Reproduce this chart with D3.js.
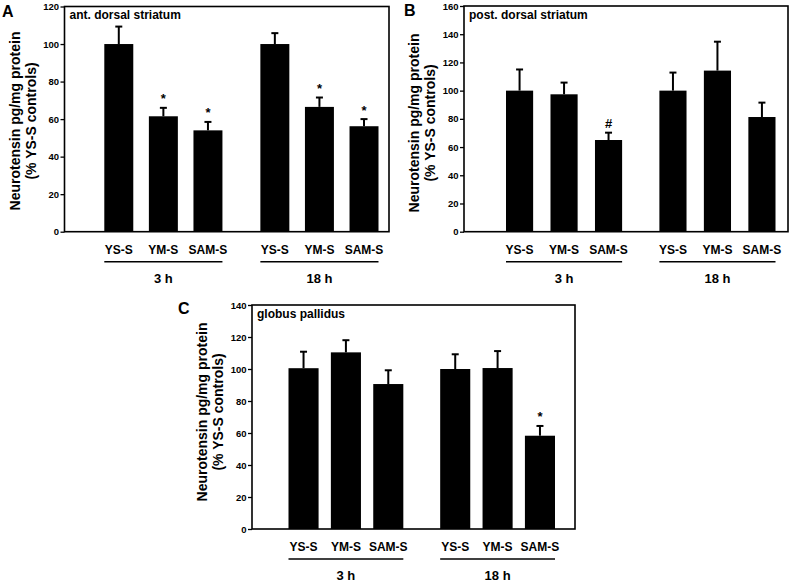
<!DOCTYPE html>
<html>
<head>
<meta charset="utf-8">
<script src="https://cdn.jsdelivr.net/npm/d3@7"></script>
<style>
  html, body { margin: 0; padding: 0; background: #fff; }
  svg { display: block; font-family: "Liberation Sans", Arial, sans-serif; font-weight: bold; }
</style>
</head>
<body>
<svg id="chart" width="791" height="585"></svg>
<script>
// ---------- data ----------
const categories = ["YS-S", "YM-S", "SAM-S"];
const groups = ["3 h", "18 h"];
const yTitle1 = "Neurotensin pg/mg protein";
const yTitle2 = "(% YS-S controls)";

const panelLetters = ["A", "B", "C"];
const regions = ["ant. dorsal striatum", "post. dorsal striatum", "globus pallidus"];

// values in order: 3 h (YS-S, YM-S, SAM-S), 18 h (YS-S, YM-S, SAM-S)
const meanA = [100, 61.5, 54, 100, 66.5, 56.2];
const semA  = [9.3, 4.5, 4.5, 5.8, 5.0, 3.8];
const sigA  = ["", "*", "*", "", "*", "*"];
const ticksA = [0, 20, 40, 60, 80, 100, 120];

const meanB = [100, 97.4, 65, 100, 114.2, 81.3];
const semB  = [15, 8.3, 5.2, 12.8, 20.5, 10.2];
const sigB  = ["", "", "#", "", "", ""];
const ticksB = [0, 20, 40, 60, 80, 100, 120, 140, 160];

const meanC = [100.5, 110.4, 90.6, 100, 100.6, 58.3];
const semC  = [10.3, 7.6, 8.6, 9.2, 10.6, 6.1];
const sigC  = ["", "", "", "", "", "*"];
const ticksC = [0, 20, 40, 60, 80, 100, 120, 140];

// ---------- layout (pixels) ----------
const layouts = [
  { left: 64.5, right: 389, top: 6.5, bottom: 231.7, g0: 104.3, g1: 378.5, inner: 0.35, letterX: 2, letterY: 17, titleY: 121 },
  { left: 464, right: 788, top: 6, bottom: 231.7, g0: 506, g1: 775.5, inner: 0.39, letterX: 404, letterY: 16, titleY: 123 },
  { left: 252, right: 575, top: 305, bottom: 529, g0: 288.5, g1: 555, inner: 0.29, letterX: 178, letterY: 314, titleY: 412 }
];

const panels = [
  { mean: meanA, sem: semA, sig: sigA, ticks: ticksA },
  { mean: meanB, sem: semB, sig: sigB, ticks: ticksB },
  { mean: meanC, sem: semC, sig: sigC, ticks: ticksC }
];

const svg = d3.select("#chart");

panels.forEach((p, pi) => {
  const L = layouts[pi];
  const g = svg.append("g");

  const yMax = d3.max(p.ticks);
  const y = d3.scaleLinear().domain([0, yMax]).range([L.bottom, L.top]);

  const xg = d3.scaleBand().domain(groups).range([L.g0, L.g1]).paddingInner(0.243).paddingOuter(0);
  const xc = d3.scaleBand().domain(categories).range([0, xg.bandwidth()]).paddingInner(L.inner).paddingOuter(0);

  const rows = [];
  groups.forEach((gr, gi) => {
    categories.forEach((c, ci) => {
      const k = gi * categories.length + ci;
      rows.push({ group: gr, cat: c, mean: p.mean[k], sem: p.sem[k], sig: p.sig[k] });
    });
  });
  const bx = d => xg(d.group) + xc(d.cat);
  const bw = xc.bandwidth();

  // bars
  g.selectAll("rect.bar").data(rows).enter().append("rect")
    .attr("class", "bar")
    .attr("x", bx)
    .attr("width", bw)
    .attr("y", d => y(d.mean))
    .attr("height", d => y(0) - y(d.mean))
    .attr("fill", "#000");

  // error bars (upper only)
  g.selectAll("line.err").data(rows).enter().append("line")
    .attr("x1", d => bx(d) + bw / 2).attr("x2", d => bx(d) + bw / 2)
    .attr("y1", d => y(d.mean)).attr("y2", d => y(d.mean + d.sem))
    .attr("stroke", "#000").attr("stroke-width", 2);
  g.selectAll("line.cap").data(rows).enter().append("line")
    .attr("x1", d => bx(d) + bw / 2 - 3.5).attr("x2", d => bx(d) + bw / 2 + 3.5)
    .attr("y1", d => y(d.mean + d.sem)).attr("y2", d => y(d.mean + d.sem))
    .attr("stroke", "#000").attr("stroke-width", 2);

  // significance markers
  g.selectAll("text.sig").data(rows.filter(d => d.sig)).enter().append("text")
    .attr("x", d => bx(d) + bw / 2)
    .attr("y", d => y(d.mean + d.sem) - 4.5)
    .attr("text-anchor", "middle")
    .attr("font-size", 13)
    .text(d => d.sig);

  // frame
  g.append("rect")
    .attr("x", L.left).attr("y", y(yMax))
    .attr("width", L.right - L.left).attr("height", y(0) - y(yMax))
    .attr("fill", "none").attr("stroke", "#000").attr("stroke-width", 1.6);

  // y axis
  const ax = g.append("g").attr("transform", `translate(${L.left},0)`)
    .call(d3.axisLeft(y).tickValues(p.ticks).tickSize(4).tickSizeOuter(0).tickPadding(1.5));
  ax.select(".domain").remove();
  ax.selectAll(".tick line").attr("stroke", "#000").attr("stroke-width", 1.3);
  ax.selectAll(".tick text").attr("font-size", 9.5).attr("font-family", "Liberation Sans, Arial, sans-serif")
    .attr("font-weight", "bold").attr("fill", "#000");

  // category labels
  g.selectAll("text.cat").data(rows).enter().append("text")
    .attr("x", d => bx(d) + bw / 2)
    .attr("y", L.bottom + 22)
    .attr("text-anchor", "middle")
    .attr("font-size", 12)
    .text(d => d.cat);

  // group lines and labels
  groups.forEach(gr => {
    g.append("line")
      .attr("x1", xg(gr)).attr("x2", xg(gr) + xg.bandwidth())
      .attr("y1", L.bottom + 30).attr("y2", L.bottom + 30)
      .attr("stroke", "#000").attr("stroke-width", 1.5);
    g.append("text")
      .attr("x", xg(gr) + xg.bandwidth() / 2)
      .attr("y", L.bottom + 51)
      .attr("text-anchor", "middle")
      .attr("font-size", 13)
      .text(gr);
  });

  // region label
  g.append("text")
    .attr("x", L.left + 5).attr("y", y(yMax) + 12.8)
    .attr("font-size", 12)
    .text(regions[pi]);

  // panel letter
  g.append("text")
    .attr("x", L.letterX).attr("y", L.letterY)
    .attr("font-size", 16)
    .text(panelLetters[pi]);

  // y title (two lines)
  g.append("text")
    .attr("transform", `translate(${L.left - 50},${L.titleY}) rotate(-90)`)
    .attr("text-anchor", "middle").attr("dominant-baseline", "central")
    .attr("font-size", 14)
    .text(yTitle1);
  g.append("text")
    .attr("transform", `translate(${L.left - 34},${L.titleY}) rotate(-90)`)
    .attr("text-anchor", "middle").attr("dominant-baseline", "central")
    .attr("font-size", 14)
    .text(yTitle2);
});
</script>
</body>
</html>
